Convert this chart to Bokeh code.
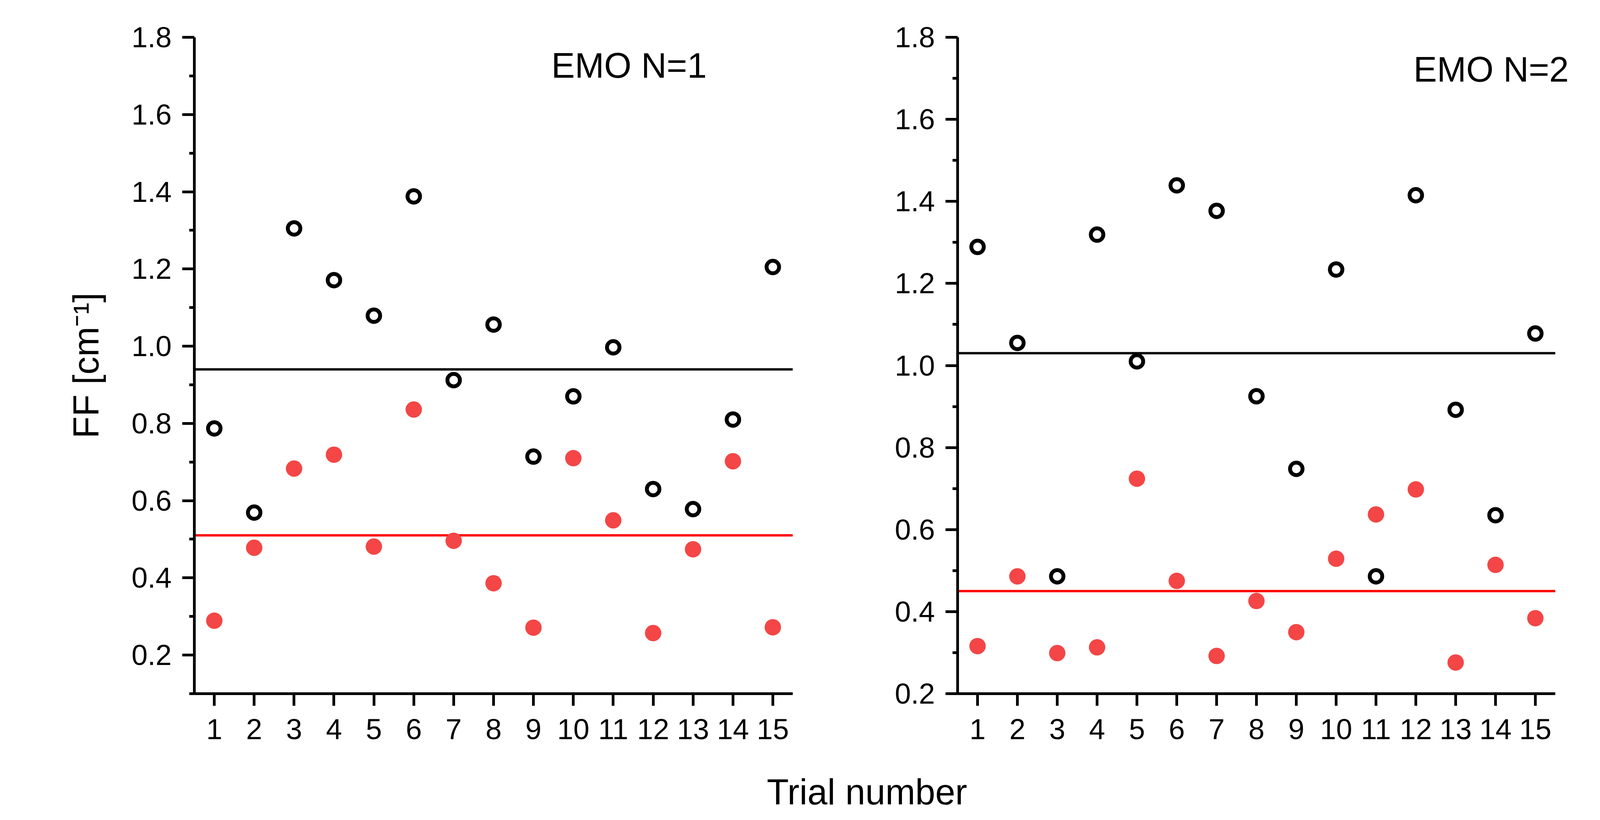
from bokeh.plotting import figure
from bokeh.layouts import column, row
from bokeh.models import Label, FixedTicker, PrintfTickFormatter, Range1d
from bokeh.embed import file_html
from bokeh.resources import INLINE

# ---------------- data ----------------
trials = list(range(1, 16))
x_tick_labels = [str(t) for t in trials]

emo1_black = [0.787, 0.569, 1.305, 1.171, 1.079, 1.388, 0.912, 1.056, 0.714, 0.870, 0.997, 0.630, 0.578, 0.810, 1.205]
emo1_red = [0.289, 0.478, 0.683, 0.719, 0.481, 0.836, 0.496, 0.386, 0.271, 0.710, 0.549, 0.257, 0.474, 0.702, 0.272]
emo1_black_mean = 0.94
emo1_red_mean = 0.51

emo2_black = [1.289, 1.055, 0.486, 1.319, 1.010, 1.439, 1.377, 0.925, 0.748, 1.234, 0.486, 1.415, 0.892, 0.635, 1.078]
emo2_red = [0.316, 0.486, 0.299, 0.313, 0.724, 0.475, 0.292, 0.426, 0.350, 0.529, 0.637, 0.698, 0.276, 0.514, 0.384]
emo2_black_mean = 1.03
emo2_red_mean = 0.45

y_major = [0.2, 0.4, 0.6, 0.8, 1.0, 1.2, 1.4, 1.6, 1.8]
y_minor = [0.1, 0.3, 0.5, 0.7, 0.9, 1.1, 1.3, 1.5, 1.7]

titles = ["EMO N=1", "EMO N=2"]
y_label = "FF [cm\u207b\u00b9]"
x_label = "Trial number"

FONT = "Liberation Sans"
RED_DOT = "#F44646"

X_LO = trials[0] - 0.5
X_HI = trials[-1] + 0.5


def make_panel(black, red, black_mean, red_mean, ymin, title, title_x, title_y,
               width, b_left, b_right, x_end, ylabel):
    p = figure(width=width, height=1930, output_backend="svg", toolbar_location=None,
               x_range=Range1d(X_LO, x_end), y_range=Range1d(ymin, 1.8),
               min_border_left=b_left, min_border_right=b_right,
               min_border_top=95, min_border_bottom=154)
    p.outline_line_color = None
    p.grid.visible = False
    p.background_fill_color = "white"
    p.border_fill_color = "white"

    for ax in (p.xaxis[0], p.yaxis[0]):
        ax.axis_line_width = 7
        ax.axis_line_color = "black"
        ax.major_tick_line_width = 7
        ax.minor_tick_line_width = 7
        ax.major_tick_in = 0
        ax.major_tick_out = 31
        ax.minor_tick_in = 0
        ax.minor_tick_out = 13
        ax.major_label_text_font = FONT
        ax.major_label_text_font_size = "74px"
        ax.major_label_text_color = "black"
        ax.axis_label_text_font = FONT
        ax.axis_label_text_font_size = "92px"
        ax.axis_label_text_font_style = "normal"
        ax.axis_label_text_color = "black"

    p.xaxis.ticker = FixedTicker(ticks=trials, minor_ticks=[])
    p.xaxis.major_label_overrides = {t: lab for t, lab in zip(trials, x_tick_labels)}
    p.xaxis.major_label_standoff = 34
    p.xaxis.bounds = (X_LO, X_HI)

    p.yaxis.ticker = FixedTicker(ticks=y_major, minor_ticks=y_minor)
    p.yaxis.formatter = PrintfTickFormatter(format="%.1f")
    p.yaxis.major_label_standoff = 27
    if ylabel:
        p.yaxis.axis_label = ylabel
        p.yaxis.axis_label_standoff = 63

    # mean lines across the trial axis
    p.segment(x0=[X_LO], x1=[X_HI], y0=[black_mean], y1=[black_mean],
              line_color="black", line_width=6)
    p.segment(x0=[X_LO], x1=[X_HI], y0=[red_mean], y1=[red_mean],
              line_color="#FF0000", line_width=6)

    # points
    p.scatter(trials, black, marker="circle", size=32, fill_color=None,
              line_color="black", line_width=10)
    p.scatter(trials, red, marker="circle", size=42, fill_color=RED_DOT,
              line_color=None)

    p.add_layout(Label(x=title_x, y=title_y, text=title, text_font=FONT,
                       text_font_size="90px", text_color="black",
                       text_align="left", text_baseline="alphabetic"))
    return p


p1 = make_panel(emo1_black, emo1_red, emo1_black_mean, emo1_red_mean, 0.1,
                titles[0], 9.45, 1.727, 2092, 497, 63, X_HI, y_label)
p2 = make_panel(emo2_black, emo2_red, emo2_black_mean, emo2_red_mean, 0.2,
                titles[1], 11.94, 1.721, 2092, 359, 152, X_HI + 0.5, None)

# bottom strip with the shared x label
p3 = figure(width=4184, height=154, output_backend="svg", toolbar_location=None,
            x_range=Range1d(0, 4184), y_range=Range1d(0, 154),
            min_border=0)
p3.axis.visible = False
p3.grid.visible = False
p3.outline_line_color = None
p3.add_layout(Label(x=2219, y=57, text=x_label, text_font=FONT,
                    text_font_size="92px", text_color="black",
                    text_align="center", text_baseline="alphabetic"))

layout = column(row(p1, p2), p3)
open("out.html", "w").write(file_html(layout, INLINE))
